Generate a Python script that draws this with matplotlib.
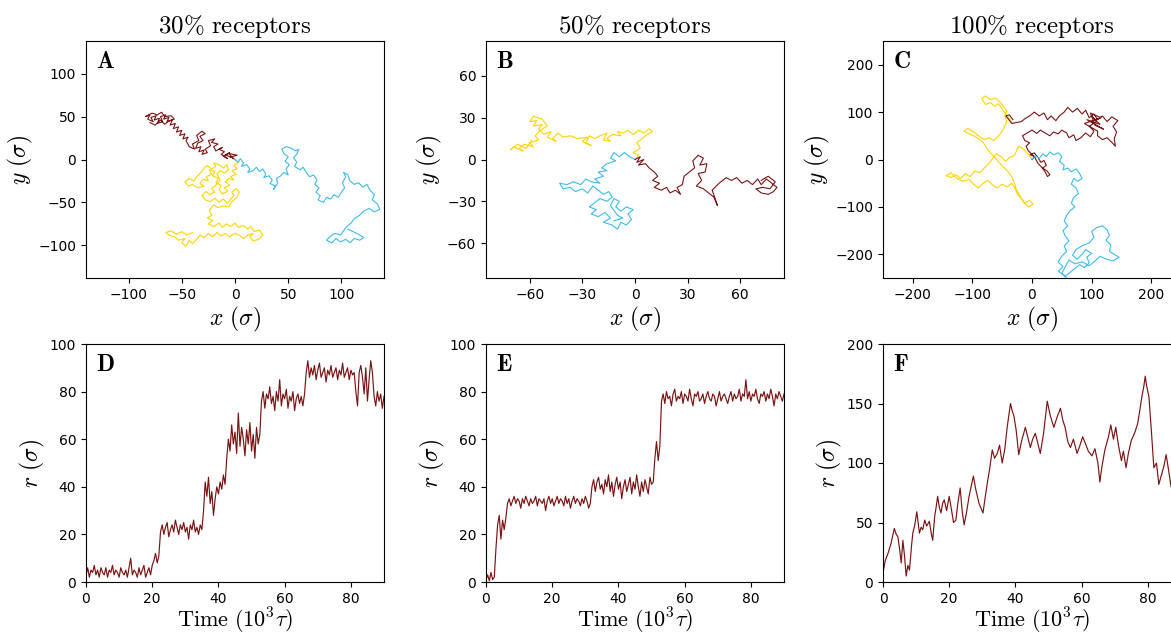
import numpy as np
import matplotlib
matplotlib.use("Agg")
import matplotlib.pyplot as plt

plt.rcParams["mathtext.fontset"] = "cm"

MAROON = "#7a1414"
GOLD = "#ffd500"
SKY = "#3dbbeb"

TITLES = ["30% receptors", "50% receptors", "100% receptors"]
LETTERS_TOP = ["A", "B", "C"]
LETTERS_BOT = ["D", "E", "F"]

# ---- panel A trajectories (x, y in sigma) ----
traj_a_maroon = [(0, 0), (-4, 3), (2, 5), (-6, 7), (-2, 2), (-9, 5), (-5, 8), (-11, 4), (-7, 1), (-13, 6),
                 (-10, 9), (-15, 12), (-12, 14), (-18, 10), (-20, 15), (-16, 18), (-22, 20), (-19, 24),
                 (-25, 22), (-23, 16), (-28, 12), (-26, 8), (-31, 6), (-29, 11), (-34, 9), (-32, 15),
                 (-37, 13), (-35, 19), (-30, 22), (-33, 27), (-28, 30), (-31, 33), (-36, 28), (-34, 22),
                 (-40, 18), (-38, 12), (-43, 15), (-46, 22), (-44, 26), (-49, 24), (-47, 30), (-52, 28),
                 (-50, 34), (-55, 32), (-53, 38), (-58, 36), (-56, 42), (-61, 40), (-59, 46), (-64, 44),
                 (-62, 49), (-67, 47), (-65, 52), (-70, 50), (-68, 44), (-73, 42), (-71, 48), (-76, 46),
                 (-74, 51), (-79, 49), (-77, 44), (-82, 47), (-80, 52), (-84, 50), (-78, 54), (-73, 52),
                 (-69, 55), (-66, 50), (-60, 51), (-57, 47), (-62, 45), (-66, 41), (-70, 46), (-75, 40),
                 (-80, 43)]
traj_a_gold = [(0, 0), (3, -4), (-1, -7), (2, -11), (-3, -13), (1, -17), (-4, -20), (-1, -24), (-6, -22),
               (-9, -26), (-5, -30), (-10, -33), (-7, -37), (-12, -40), (-15, -35), (-13, -30), (-18, -27),
               (-16, -22), (-21, -19), (-19, -14), (-24, -12), (-22, -17), (-27, -20), (-25, -25),
               (-30, -23), (-33, -28), (-29, -31), (-35, -33), (-40, -29), (-44, -31), (-47, -26),
               (-43, -22), (-39, -25), (-36, -20), (-32, -15), (-29, -10), (-26, -7), (-22, -11),
               (-18, -8), (-20, -4), (-15, -6), (-11, -10), (-8, -6), (-6, -12), (-10, -16), (-14, -13),
               (-17, -17), (-14, -24), (-18, -30), (-22, -34), (-19, -38), (-24, -41), (-27, -37),
               (-31, -42), (-28, -47), (-23, -49), (-19, -45), (-15, -50), (-11, -46), (-7, -51),
               (-4, -46), (-1, -42), (-3, -38), (1, -34), (4, -38), (2, -44), (-2, -48), (-6, -55),
               (-11, -54), (-16, -56), (-20, -53), (-24, -59), (-22, -65), (-26, -68), (-21, -71),
               (-25, -75), (-20, -78), (-15, -74), (-12, -79), (-8, -75), (-4, -78), (0, -74), (3, -79),
               (8, -77), (12, -81), (15, -78), (18, -84), (23, -82), (26, -88), (22, -93), (17, -95),
               (14, -90), (17, -86), (12, -88), (8, -92), (4, -88), (0, -86), (-5, -90), (-9, -86),
               (-13, -89), (-17, -85), (-21, -90), (-25, -86), (-29, -91), (-33, -88), (-36, -93),
               (-40, -98), (-43, -94), (-46, -101), (-50, -97), (-47, -92), (-53, -94), (-57, -90),
               (-62, -88), (-65, -85), (-60, -83), (-55, -87), (-50, -84), (-45, -88), (-40, -85)]
traj_a_sky = [(0, 0), (3, -3), (5, 1), (8, -4), (6, -8), (11, -6), (14, -11), (12, -15), (17, -13),
              (20, -9), (23, -14), (26, -11), (29, -17), (27, -21), (32, -19), (35, -24), (33, -28),
              (38, -31), (36, -35), (40, -28), (39, -22), (43, -19), (46, -15), (50, -18), (48, -11),
              (51, -6), (47, -2), (50, 3), (46, 7), (44, 12), (48, 15), (53, 13), (57, 10), (60, 12),
              (58, 6), (55, 2), (58, -3), (56, -8), (61, -12), (64, -9), (67, -15), (70, -20), (74, -18),
              (77, -24), (75, -29), (79, -33), (76, -38), (80, -42), (78, -47), (83, -50), (86, -44),
              (90, -46), (93, -41), (97, -44), (100, -38), (103, -33), (101, -27), (104, -20),
              (102, -15), (106, -18), (108, -25), (112, -29), (116, -27), (120, -32), (124, -29),
              (127, -36), (131, -41), (129, -47), (134, -52), (136, -58), (131, -61), (126, -57),
              (121, -60), (117, -65), (112, -69), (109, -74), (105, -78), (102, -83), (99, -88),
              (94, -86), (89, -90), (86, -94), (91, -97), (95, -92), (99, -96), (104, -93), (108, -97),
              (112, -92), (117, -94), (121, -91), (116, -87), (111, -84), (106, -81)]

# ---- panel B trajectories ----
traj_b_gold = [(0, 0), (2, 3), (-1, 5), (3, 8), (1, 12), (4, 15), (7, 18), (10, 20), (8, 22), (5, 19),
               (2, 21), (-1, 18), (-4, 21), (-7, 19), (-10, 20), (-8, 17), (-13, 18), (-16, 15),
               (-14, 13), (-18, 14), (-16, 19), (-20, 17), (-23, 15), (-26, 17), (-28, 12), (-25, 10),
               (-30, 13), (-27, 16), (-33, 15), (-37, 17), (-41, 16), (-44, 19), (-47, 15), (-45, 13),
               (-50, 16), (-48, 20), (-52, 18), (-55, 22), (-53, 25), (-58, 24), (-56, 28), (-60, 27),
               (-58, 31), (-53, 29), (-50, 24), (-54, 21), (-57, 17), (-55, 14), (-60, 12), (-58, 9),
               (-63, 11), (-66, 8), (-64, 6), (-69, 9), (-71, 7), (-67, 11), (-62, 8), (-59, 14)]
traj_b_sky = [(0, 0), (-3, 2), (-6, 5), (-9, 2), (-12, 5), (-14, 1), (-11, -1), (-16, -3), (-19, -6),
              (-16, -8), (-21, -9), (-18, -12), (-23, -14), (-20, -17), (-25, -16), (-28, -14),
              (-31, -18), (-35, -16), (-39, -18), (-43, -17), (-41, -21), (-37, -20), (-34, -23),
              (-30, -21), (-27, -24), (-24, -19), (-21, -22), (-18, -25), (-15, -23), (-13, -27),
              (-16, -30), (-20, -28), (-23, -31), (-26, -34), (-22, -36), (-25, -39), (-21, -41),
              (-17, -38), (-14, -42), (-18, -45), (-13, -47), (-10, -50), (-8, -45), (-5, -47),
              (-2, -43), (-4, -39), (-1, -36), (-5, -34), (-8, -37), (-11, -34), (-9, -30), (-12, -28),
              (-14, -33), (-10, -40), (-7, -42), (-12, -44)]
traj_b_maroon = [(0, 0), (3, 2), (1, -2), (5, 0), (2, -4), (6, -3), (8, -6), (11, -9), (13, -12),
                 (10, -15), (14, -17), (11, -20), (15, -22), (18, -20), (20, -24), (23, -22), (26, -25),
                 (24, -20), (27, -18), (28, -12), (31, -9), (34, -6), (33, -1), (36, 3), (39, 1),
                 (37, -4), (41, -3), (40, -9), (36, -10), (38, -15), (35, -19), (39, -21), (42, -24),
                 (45, -27), (47, -33), (46, -29), (44, -22), (48, -17), (52, -13), (55, -15), (58, -13),
                 (61, -17), (64, -15), (67, -18), (70, -14), (72, -18), (75, -14), (78, -17), (81, -20),
                 (79, -23), (76, -25), (72, -24), (69, -21), (73, -20), (77, -21), (80, -16), (76, -12),
                 (72, -15)]

# ---- panel C trajectories ----
traj_c_gold = [(0, 0), (-4, 8), (-10, 16), (-16, 24), (-22, 28), (-26, 18), (-30, 8), (-38, 4),
               (-44, -4), (-52, 6), (-60, 12), (-66, 2), (-72, -8), (-80, -18), (-88, -28), (-96, -24),
               (-104, -36), (-112, -30), (-120, -40), (-128, -32), (-136, -38), (-144, -34),
               (-136, -28), (-126, -40), (-116, -46), (-106, -42), (-98, -52), (-90, -60), (-82, -50),
               (-74, -44), (-66, -54), (-58, -60), (-50, -52), (-42, -58), (-34, -50), (-28, -62),
               (-24, -74), (-18, -82), (-12, -92), (-4, -86), (2, -94), (-6, -100), (-14, -90),
               (-20, -78), (-26, -64), (-30, -48), (-34, -36), (-40, -26), (-48, -16), (-54, -8),
               (-62, 4), (-70, 14), (-76, 24), (-82, 36), (-90, 44), (-98, 50), (-106, 54), (-114, 60),
               (-108, 66), (-98, 58), (-90, 50), (-80, 42), (-72, 46), (-64, 40), (-56, 50), (-50, 60),
               (-46, 70), (-42, 80), (-46, 92), (-42, 102), (-48, 112), (-54, 122), (-62, 130),
               (-70, 126), (-78, 134), (-84, 128), (-78, 116), (-70, 120), (-62, 112), (-56, 118),
               (-50, 106), (-44, 96), (-38, 86), (-34, 78)]
traj_c_maroon = [(0, 0), (5, 6), (-3, 10), (4, 14), (10, 4), (15, -6), (20, -2), (24, -12), (18, -18),
                 (25, -24), (30, -32), (26, -36), (22, -26), (16, -16), (10, -8), (4, 6), (-6, 18),
                 (-10, 28), (-4, 35), (-12, 40), (-16, 50), (-8, 56), (0, 62), (8, 55), (14, 62),
                 (22, 56), (30, 50), (36, 58), (44, 54), (50, 62), (58, 56), (62, 46), (70, 52),
                 (74, 40), (82, 46), (90, 56), (98, 48), (104, 60), (96, 70), (108, 80), (100, 92),
                 (114, 74), (92, 84), (120, 64), (106, 72), (98, 98), (116, 88), (88, 76), (110, 60),
                 (110, 50), (118, 42), (126, 46),
                 (134, 36), (140, 28), (138, 44), (142, 58), (136, 70), (144, 82), (134, 90), (126, 80),
                 (118, 92), (110, 84), (104, 96), (96, 88), (90, 104), (84, 96), (76, 108), (68, 100),
                 (60, 110), (54, 100), (46, 92), (40, 82), (32, 92), (26, 84), (20, 98), (12, 92),
                 (4, 100), (-4, 92), (-12, 86), (-18, 80), (-26, 78), (-34, 76), (-40, 86), (-44, 92),
                 (-38, 94), (-32, 84)]
traj_c_sky = [(0, 0), (6, 8), (12, 2), (18, 12), (24, 6), (30, 16), (36, 10), (44, 14), (50, 6),
              (46, -4), (54, -12), (52, -22), (60, -18), (66, -26), (74, -20), (80, -30), (84, -40),
              (76, -46), (70, -40), (66, -52), (74, -60), (78, -72), (70, -80), (66, -92), (72, -100),
              (64, -108), (58, -118), (54, -130), (60, -140), (52, -150), (56, -162), (62, -172),
              (54, -182), (58, -194), (50, -204), (44, -216), (52, -226), (44, -236), (56, -246),
              (64, -238), (72, -230), (80, -222), (88, -228), (96, -218), (92, -206), (100, -198),
              (90, -190), (84, -200), (76, -210), (68, -202), (74, -190), (84, -182), (96, -176),
              (104, -164), (100, -152), (108, -144), (118, -140), (126, -148), (130, -160),
              (124, -170), (132, -180), (130, -194), (138, -200), (146, -206), (136, -214),
              (124, -210), (114, -204), (106, -214), (96, -224), (84, -216), (72, -220), (62, -212),
              (56, -226), (50, -240), (58, -250)]

# ---- r(t) traces, sampled every 0.5 x 10^3 tau from 0 to 90 ----
r_d = [3, 6, 2, 5, 4, 7, 3, 5, 2, 6, 4, 3, 6, 2, 5, 4, 7, 3, 5, 4,
       2, 6, 4, 3, 5, 2, 6, 10, 3, 5, 4, 2, 6, 3, 5, 7, 2, 4, 6, 3,
       7, 9, 12, 8, 11,
       21, 24, 20, 23, 25, 19, 22, 24, 21, 26, 23, 20, 24, 22, 25, 21, 23, 18, 24, 22, 26, 21, 23, 20, 24, 22,
       30, 42, 36, 44, 33, 38, 28, 35, 40, 37, 42, 39, 45, 41,
       52, 60, 55, 66, 58, 63, 54, 71, 57, 65, 60, 53, 64, 58, 67, 55, 62, 52, 65, 58, 62,
       76, 80, 73, 79, 77, 82, 75, 78, 72, 80, 76, 85, 74, 79, 77, 81, 73, 78, 76, 80, 72, 77, 79, 75, 78, 74, 79,
       88, 93, 86, 90, 87, 91, 85, 89, 92, 86, 88, 90, 84, 89, 87, 91, 86, 88, 90, 85, 89, 87, 92, 86, 88, 90, 85, 89, 87, 88,
       80, 74, 88, 91, 86, 79, 90, 76, 85, 93, 88, 78, 74, 80, 76, 79, 73, 78]
r_e = [1, 3, 0.5, 4, 1, 2,
       14, 24, 28, 18, 26, 22, 27,
       33, 35, 32, 34, 36, 33, 35, 34, 31, 35, 33, 36, 34, 32, 35, 33, 34, 36, 32, 35,
       34, 33, 35, 30, 34, 36, 33, 35, 32, 34, 36, 33, 35, 34, 32, 36, 33, 35, 31, 34,
       36, 33, 35, 34, 32, 35, 33, 36, 34, 31, 33,
       40, 43, 38, 42, 44, 39, 41, 37, 43, 40, 45, 38, 42, 36, 41, 44, 39, 42, 35, 40,
       43, 38, 41, 44, 37, 42, 39, 45, 40, 36, 42, 38, 43, 40, 37, 44, 41, 42,
       52, 59, 51, 57,
       76, 79, 75, 80, 77, 78, 74, 79, 81, 76, 78, 77, 80, 75, 79, 78, 76, 81, 77, 74,
       79, 78, 80, 76, 77, 79, 75, 78, 80, 77, 76, 79, 78, 74, 77, 80, 76, 78, 79, 77,
       75, 78, 80, 76, 79, 77, 78, 81, 76, 79, 78, 85, 77, 80, 76, 79, 78, 81, 77, 75,
       79, 78, 80, 76, 79, 77, 81, 78, 74, 79, 77, 80, 78, 76, 79]
t_f = [0, 0.7, 1.5, 2.4, 3.4, 4, 4.5, 5, 5.5, 6, 6.5, 7, 7.5, 8, 8.6, 9, 9.6, 10.2, 10.6, 11, 11.5,
       12, 12.6, 13.2, 14, 14.5, 15, 15.6, 16, 16.5, 17, 17.5, 18, 18.5, 19.2, 20, 20.6, 21.3, 22,
       22.6, 23.3, 23.9, 24.5, 25.2, 26, 26.6, 27.3, 28, 29, 29.6, 30.2, 30.8, 31.5, 32.2, 33,
       33.7, 34.5, 35.2, 36, 36.8, 37.5, 38, 38.5, 39, 39.5, 40.2, 41, 41.8, 43, 43.7, 44.5, 45.2,
       46, 46.8, 47.5, 48.5, 49.6, 50.5, 51.6, 52.5, 53.6, 54.3, 55, 55.8, 56.6, 57.5, 58.6, 59.5,
       60.3, 61.2, 62, 63.1, 64, 64.9, 65.5, 66, 67, 68.1, 68.8, 69.6, 70.3, 71.1, 72, 72.6, 73.4,
       74.1, 75, 76.1, 76.9, 77.6, 78.2, 78.8, 79.2, 79.6, 80.3, 81.1, 81.8, 82.6, 83.3, 84.1,
       84.9, 85.5, 86.2, 87, 88, 89, 90]
r_f = [8, 18, 24, 32, 45, 40, 38, 28, 16, 35, 22, 5, 14, 10, 30, 41, 48, 59, 50, 41, 46,
       44, 52, 47, 51, 42, 35, 55, 62, 72, 63, 58, 66, 69, 60, 72, 62, 50, 52,
       66, 79, 60, 48, 58, 72, 80, 89, 78, 66, 62, 58, 70, 83, 95, 111, 104, 108, 115, 100,
       112, 130, 140, 150, 144, 140, 128, 107, 118, 130, 122, 113, 120, 125, 116, 108, 125, 152,
       140, 130, 138, 146, 136, 130, 118, 113, 120, 108, 115, 122, 116, 110, 106, 112, 100, 84,
       95, 111, 122, 132, 120, 130, 115, 102, 110, 96, 108, 119, 126, 133, 145, 156, 165, 173,
       165, 156, 125, 96, 100, 82, 90, 98, 107, 95, 80, 76, 82, 86]

AX_LEFT = [86, 486, 883]
AX_W = 298
W, H = 1171, 635


def add_axes(fig, left, top, height):
    return fig.add_axes([left / W, 1 - (top + height) / H, AX_W / W, height / H])


def style(ax, letter):
    ax.tick_params(labelsize=10, direction="out", length=3.5, width=0.8)
    ax.text(0.033, 0.965, r"$\mathbf{%s}$" % letter, transform=ax.transAxes,
            fontsize=17, ha="left", va="top")


def build():
    fig = plt.figure(figsize=(W / 100, H / 100), dpi=100)
    fig.patch.set_facecolor("white")

    top_sets = [
        (traj_a_maroon, traj_a_gold, traj_a_sky, 140, 138, [-100, -50, 0, 50, 100], [-100, -50, 0, 50, 100]),
        (traj_b_gold, traj_b_sky, traj_b_maroon, 85, 85, [-60, -30, 0, 30, 60], [-60, -30, 0, 30, 60]),
        (traj_c_gold, traj_c_maroon, traj_c_sky, 250, 250, [-200, -100, 0, 100, 200], [-200, -100, 0, 100, 200]),
    ]
    colour_sets = [(MAROON, GOLD, SKY), (GOLD, SKY, MAROON), (GOLD, MAROON, SKY)]

    for i, (t1, t2, t3, xl, yl, xt, yt) in enumerate(top_sets):
        ax = add_axes(fig, AX_LEFT[i], 41, 237)
        for traj, col in zip((t1, t2, t3), colour_sets[i]):
            pts = np.array(traj, dtype=float)
            ax.plot(pts[:, 0], pts[:, 1], color=col, lw=0.8)
        ax.set_xlim(-xl, xl)
        ax.set_ylim(-yl, yl)
        ax.set_xticks(xt)
        ax.set_yticks(yt)
        ax.set_xlabel(r"$x\ (\sigma)$", fontsize=17, labelpad=2)
        ax.set_ylabel(r"$y\ (\sigma)$", fontsize=17, labelpad=2)
        ax.set_title(r"$\mathrm{%s}$" % TITLES[i].replace("%", r"\%").replace(" ", r"\ "),
                     fontsize=18, pad=6)
        style(ax, LETTERS_TOP[i])

    bottom_sets = [
        (np.linspace(0, 90, len(r_d)), r_d, 100, [0, 20, 40, 60, 80, 100]),
        (np.linspace(0, 90, len(r_e)), r_e, 100, [0, 20, 40, 60, 80, 100]),
        (np.array(t_f), r_f, 200, [0, 50, 100, 150, 200]),
    ]
    for i, (t, r, ymax, yt) in enumerate(bottom_sets):
        ax = add_axes(fig, AX_LEFT[i], 344, 238)
        ax.plot(t, r, color=MAROON, lw=0.85)
        ax.set_xlim(0, 90)
        ax.set_ylim(0, ymax)
        ax.set_xticks([0, 20, 40, 60, 80])
        ax.set_yticks(yt)
        ax.set_xlabel(r"$\mathrm{Time}\ (10^3\tau)$", fontsize=16, labelpad=0)
        ax.set_ylabel(r"$r\ (\sigma)$", fontsize=17, labelpad=2)
        style(ax, LETTERS_BOT[i])

    fig.savefig("out.png", dpi=100)
    plt.close(fig)


if __name__ == "__main__":
    build()
